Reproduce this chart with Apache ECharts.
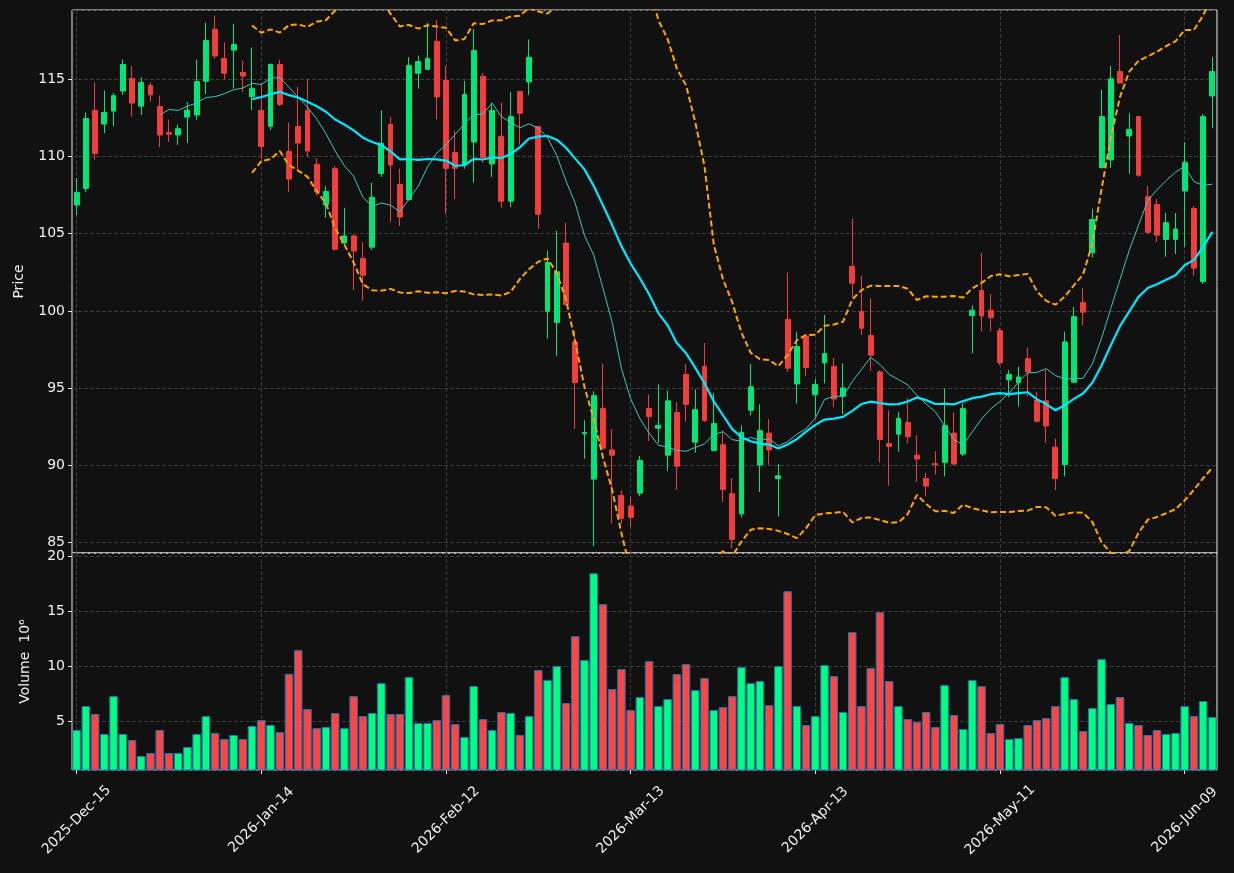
<!DOCTYPE html>
<html><head><meta charset="utf-8">
<script src="https://cdn.jsdelivr.net/npm/echarts@6/dist/echarts.min.js"></script>
<style>html,body{margin:0;padding:0;background:#111111;}#c{width:1234px;height:873px;}</style>
</head><body><div id="c"></div>
<script>
// Trading days (month, day list)
const tradingMonths = [
  ['2025','Dec',[15,16,17,18,19,22,23,24,26,29,30,31]],
  ['2026','Jan',[2,5,6,7,8,9,12,13,14,15,16,20,21,22,23,26,27,28,29,30]],
  ['2026','Feb',[2,3,4,5,6,9,10,11,12,13,17,18,19,20,23,24,25,26,27]],
  ['2026','Mar',[2,3,4,5,6,9,10,11,12,13,16,17,18,19,20,23,24,25,26,27,30,31]],
  ['2026','Apr',[1,2,6,7,8,9,10,13,14,15,16,17,20,21,22,23,24,27,28,29,30]],
  ['2026','May',[1,4,5,6,7,8,11,12,13,14,15,18,19,20,21,22,26,27,28,29]],
  ['2026','Jun',[1,2,3,4,5,8,9,10,11,12]]
];
const categories = [];
tradingMonths.forEach(([y,m,ds]) => ds.forEach(d => categories.push(y+'-'+m+'-'+String(d).padStart(2,'0'))));

const opens = [106.86,107.93,113.00,112.11,112.95,114.25,115.06,113.27,114.61,113.24,111.56,111.40,112.56,112.70,114.88,118.25,116.36,116.90,115.45,113.90,
113.00,111.97,115.97,110.33,111.95,113.00,109.50,106.86,109.22,104.40,104.86,103.40,104.13,108.90,112.09,108.20,107.22,115.40,115.65,117.47,
114.93,110.27,109.45,110.95,115.20,109.52,111.31,107.11,114.22,114.84,111.95,99.97,99.24,104.40,97.99,92.04,89.10,93.67,90.99,88.03,
87.35,88.19,93.67,92.40,90.65,93.42,95.88,91.49,96.40,90.95,91.33,88.15,86.85,93.56,90.01,92.08,89.13,99.45,95.26,98.35,
94.56,96.63,96.40,94.47,102.88,99.97,98.40,96.04,91.40,92.01,92.76,90.65,89.13,90.10,90.19,92.08,90.72,99.70,101.33,100.04,
98.72,95.54,95.35,96.90,94.22,94.17,91.17,90.04,95.38,100.54,103.77,109.29,109.79,115.52,111.34,112.59,107.40,106.90,104.63,104.63,
107.77,106.63,101.90,113.93];
const highs = [108.61,112.86,114.81,114.29,114.13,116.29,115.88,115.13,114.81,113.95,112.40,112.06,113.54,116.29,118.68,119.13,117.40,118.61,116.22,117.06,
114.75,116.04,116.27,112.20,114.52,115.04,109.90,108.08,109.40,106.68,104.97,104.45,108.31,113.00,112.59,109.22,116.45,116.54,118.68,118.86,
115.88,111.68,114.90,118.27,115.43,113.50,113.50,114.20,114.25,117.59,112.00,103.90,105.20,105.72,98.72,92.92,94.79,96.60,92.35,88.38,
87.96,90.60,94.58,95.24,94.85,94.10,96.56,94.92,97.92,94.67,92.24,89.17,92.58,96.56,93.94,92.99,90.08,102.47,98.65,98.40,
95.58,99.74,96.97,96.60,105.99,102.29,100.81,96.15,93.56,93.45,94.35,91.94,89.51,90.92,94.97,93.42,94.01,100.36,103.77,101.11,
98.90,96.17,96.38,97.63,94.74,96.17,91.72,98.65,100.26,101.49,106.61,114.34,115.86,117.88,112.81,112.65,108.11,107.24,106.34,106.34,
110.93,106.79,112.77,116.45];
const lows = [106.22,107.70,109.79,111.52,111.97,114.00,112.59,112.70,113.56,110.61,110.95,110.77,110.88,112.36,114.06,116.34,115.02,114.40,114.18,113.00,
109.86,111.72,113.27,107.70,109.18,109.97,107.47,106.04,103.90,104.30,101.33,100.65,103.95,108.68,105.77,105.49,107.15,114.40,115.60,112.40,
106.27,107.24,109.22,108.31,109.59,108.68,106.68,106.72,110.77,114.00,105.31,98.20,97.08,100.35,92.35,90.42,84.74,91.00,86.22,86.22,
85.99,87.99,91.56,91.44,89.63,88.38,92.81,90.81,92.81,90.90,87.62,84.62,86.62,93.22,88.26,90.04,86.67,96.04,93.99,95.76,
93.15,95.31,93.76,93.31,100.88,98.45,96.11,90.19,88.67,90.88,91.40,88.90,87.97,89.40,89.28,89.97,90.58,97.24,98.67,98.67,
96.49,94.40,93.79,94.45,92.76,91.44,88.38,89.28,95.31,99.06,103.45,109.22,109.27,114.75,108.88,108.68,105.02,104.45,103.50,103.68,
104.13,102.29,101.74,111.84];
const closes = [107.68,112.47,110.20,112.86,113.95,115.97,113.47,114.81,114.00,111.40,111.45,111.81,113.00,114.86,117.52,116.52,115.40,117.27,115.22,114.43,
110.65,115.97,113.38,108.54,110.88,110.36,107.70,107.74,104.00,104.86,103.88,102.31,107.36,110.86,109.45,106.08,115.90,116.16,116.36,113.86,
109.24,109.24,114.02,116.88,109.95,113.00,107.11,112.59,112.81,116.43,106.27,103.15,102.54,100.42,95.35,92.12,94.51,91.10,90.65,86.56,
86.62,90.31,93.15,92.58,94.17,89.94,93.94,93.60,92.90,92.70,88.42,85.19,92.13,95.08,92.24,90.99,89.31,96.29,97.70,96.33,
95.24,97.24,94.29,95.01,101.79,98.88,97.13,91.67,91.22,93.04,91.85,90.40,88.65,90.04,92.58,90.08,93.67,100.04,99.67,99.56,
96.63,95.88,95.72,96.04,92.85,92.54,89.13,97.99,99.63,99.92,105.93,112.59,115.04,114.77,111.77,108.79,105.09,104.90,105.72,105.31,
109.63,102.77,112.59,115.52];
// Volume in millions
const volumes = [4.18,6.36,5.64,3.82,7.27,3.82,3.27,1.82,2.09,4.18,2.09,2.09,2.64,3.82,5.45,3.91,3.36,3.73,3.36,4.55,
5.09,4.64,4.00,9.30,11.45,6.09,4.36,4.45,5.73,4.36,7.27,5.45,5.73,8.45,5.64,5.64,9.00,4.82,4.82,5.09,
7.36,4.73,3.55,8.18,5.18,4.18,5.82,5.73,3.73,5.45,9.64,8.73,10.00,6.64,12.73,10.55,18.45,15.64,7.91,9.73,
6.00,7.18,10.45,6.36,7.00,9.27,10.18,7.82,8.91,6.00,6.27,7.27,9.91,8.45,8.64,6.45,10.00,16.82,6.36,4.64,
5.45,10.09,9.09,5.82,13.09,6.36,9.82,14.91,8.64,6.36,5.18,4.91,5.82,4.45,8.27,5.55,4.27,8.73,8.18,3.91,
4.73,3.36,3.45,4.64,5.09,5.27,6.36,9.00,7.00,4.09,6.18,10.64,6.55,7.18,4.82,4.64,3.73,4.18,3.82,3.91,
6.36,5.45,6.82,5.36];

// Indicators derived from the closes (as in the original chart)
function sma(arr, n){ return arr.map((v,i)=>{ if(i<n-1) return null; let s=0; for(let k=i-n+1;k<=i;k++) s+=arr[k]; return +(s/n).toFixed(3); }); }
function band(arr, n, mult, sign){ return arr.map((v,i)=>{ if(i<n-1) return null; let s=0; for(let k=i-n+1;k<=i;k++) s+=arr[k]; const m=s/n; let q=0; for(let k=i-n+1;k<=i;k++) q+=(arr[k]-m)*(arr[k]-m); return +(m+sign*mult*Math.sqrt(q/n)).toFixed(3); }); }
const ma10 = sma(closes,10);
const ma20 = sma(closes,20);
const bbUpper = band(closes,20,2,1);
const bbLower = band(closes,20,2,-1);

const UP='#00e676', DOWN='#f23d3d', VUP='#00ff7f', VDOWN='#ff4444';
const TXT='#f0f0f0', SPINE='#e6e6e6', GRIDC='#3b3b3b';
const showEvery = (i)=> i % 20 === 0;

const candleData = opens.map((o,i)=>[o, closes[i], lows[i], highs[i]]);
const volData = volumes.map((v,i)=>({value:v, itemStyle:{color: closes[i]>=opens[i]?VUP:VDOWN}}));

const chart = echarts.init(document.getElementById('c'), null, {renderer:'canvas'});
chart.setOption({
  backgroundColor:'#111111',
  animation:false,
  textStyle:{fontFamily:'DejaVu Sans'},
  grid:[
    {left:72, right:17, top:10, height:543, show:true, borderColor:SPINE, borderWidth:1, backgroundColor:'transparent', containLabel:false},
    {left:72, right:17, top:553, height:217, show:true, borderColor:SPINE, borderWidth:1, backgroundColor:'transparent', containLabel:false}
  ],
  xAxis:[
    {type:'category', gridIndex:0, data:categories, boundaryGap:true,
     axisLine:{show:false}, axisTick:{show:false}, axisLabel:{show:false},
     splitLine:{show:true, interval:showEvery, alignWithLabel:true, lineStyle:{color:GRIDC, type:[4,2], width:1}}},
    {type:'category', gridIndex:1, data:categories, boundaryGap:true,
     axisLine:{show:false},
     axisTick:{show:true, interval:showEvery, alignWithLabel:true, length:4, lineStyle:{color:SPINE}},
     axisLabel:{interval:showEvery, rotate:45, color:TXT, fontSize:14, margin:50, align:'center', verticalAlign:'middle'},
     splitLine:{show:true, interval:showEvery, alignWithLabel:true, lineStyle:{color:GRIDC, type:[4,2], width:1}}}
  ],
  yAxis:[
    {type:'value', gridIndex:0, min:84.31, max:119.5, splitNumber:7, scale:true,
     name:'Price', nameLocation:'middle', nameGap:46, nameTextStyle:{color:TXT, fontSize:14},
     axisLine:{show:false}, axisTick:{show:true, length:4, lineStyle:{color:SPINE}},
     axisLabel:{color:TXT, fontSize:14, margin:7, showMinLabel:false, showMaxLabel:false},
     splitLine:{show:true, lineStyle:{color:GRIDC, type:[4,2], width:1}}},
    {type:'value', gridIndex:1, min:0.545, max:20.3, splitNumber:4, scale:true,
     name:'Volume  10\u2076', nameLocation:'middle', nameGap:40, nameTextStyle:{color:TXT, fontSize:14},
     axisLine:{show:false}, axisTick:{show:true, length:4, lineStyle:{color:SPINE}},
     axisLabel:{color:TXT, fontSize:14, margin:7, showMinLabel:false, showMaxLabel:false},
     splitLine:{show:true, lineStyle:{color:GRIDC, type:[4,2], width:1}}}
  ],
  series:[
    {type:'candlestick', name:'OHLC', xAxisIndex:0, yAxisIndex:0, data:candleData, barWidth:'58%',
     itemStyle:{color:UP, color0:DOWN, borderColor:UP, borderColor0:DOWN, borderWidth:1}, z:2},
    {type:'line', name:'MA10', xAxisIndex:0, yAxisIndex:0, data:ma10, showSymbol:false, symbol:'none',
     lineStyle:{color:'#3cc8bd', width:1}, z:3},
    {type:'line', name:'MA20', xAxisIndex:0, yAxisIndex:0, data:ma20, showSymbol:false, symbol:'none',
     lineStyle:{color:'#00e8ff', width:2.2}, z:4},
    {type:'line', name:'BBU', xAxisIndex:0, yAxisIndex:0, data:bbUpper, showSymbol:false, symbol:'none',
     lineStyle:{color:'#ffa500', width:2, type:[6,3]}, z:3},
    {type:'line', name:'BBL', xAxisIndex:0, yAxisIndex:0, data:bbLower, showSymbol:false, symbol:'none',
     lineStyle:{color:'#ffa500', width:2, type:[6,3]}, z:3},
    {type:'bar', name:'Volume', xAxisIndex:1, yAxisIndex:1, data:volData, barWidth:'92%',
     itemStyle:{borderColor:'#1f77b4', borderWidth:1}}
  ]
});
</script></body></html>
